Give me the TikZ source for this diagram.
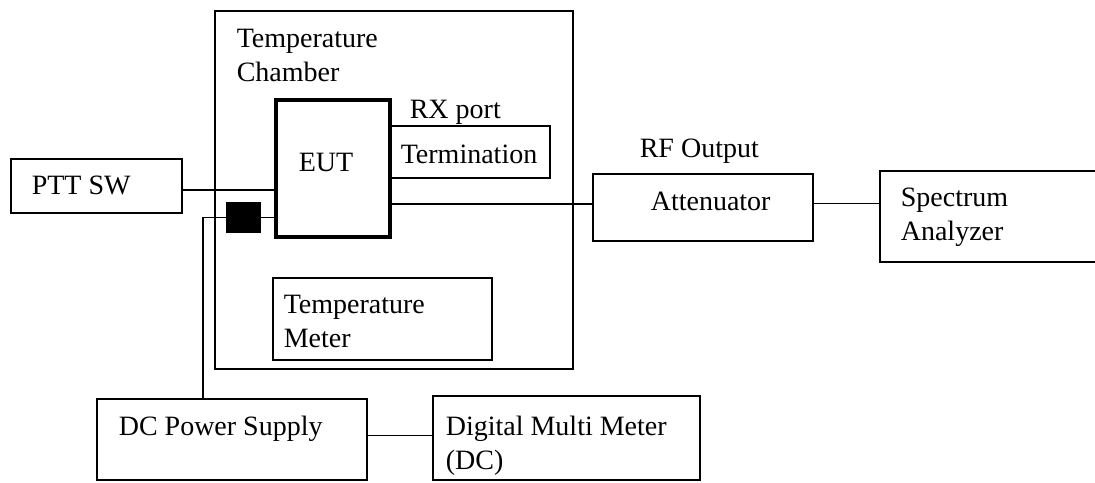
\documentclass[tikz,border=0pt]{standalone}
\usepackage{fontspec}
\setmainfont{Liberation Serif}
\usetikzlibrary{fit}

\begin{document}
\begin{tikzpicture}[x=0.5pt,y=-0.5pt,line width=0.8pt,
    box/.style={draw,inner sep=0pt},
    txt/.style={anchor=base west,inner sep=0pt,align=left,font=\fontsize{14}{17}\selectfont}]
\useasboundingbox (0,0) rectangle (1095,482);

% boxes
\node[box,fit={(215,11) (573,369)}] (chamber) {};
\node[box,line width=2pt,fit={(276,100) (390,237)}] (eut) {};
\node[box,fit={(390,126) (550,178)}] (term) {};
\node[box,fit={(273,278) (492,360)}] (meter) {};
\node[box,fill=black,fit={(227,203) (260,232)}] (blk) {};
\node[box,fit={(11,159) (182,213)}] (ptt) {};
\node[box,fit={(593,174) (813,241)}] (att) {};
\node[box,fit={(880,171) (1110,262)}] (sa) {};
\node[box,fit={(97,399) (367,480)}] (dc) {};
\node[box,fit={(433,396) (700,480)}] (dmm) {};

% texts (base = last line)
\node[txt] (chambertxt) at (236,81) {Temperature\\Chamber};
\node[txt] (rxport) at (409,118) {RX port};
\node[txt] (termtxt) at (400,163) {Termination};
\node[txt] (euttxt) at (298,171) {EUT};
\node[txt] (meternote) at (283,347) {Temperature\\Meter};
\node[txt] (ptttxt) at (31,194) {PTT SW};
\node[txt] (rfout) at (639,157) {RF Output};
\node[txt] (atttxt) at (650,210) {Attenuator};
\node[txt] (satxt) at (900,240) {Spectrum\\Analyzer};
\node[txt] (dctxt) at (118,435) {DC Power Supply};
\node[txt] (dmmtxt) at (445,469) {Digital Multi Meter\\(DC)};

% connections
\coordinate (pwr) at (203,217.5);
\draw ([yshift=-2pt]ptt.east) -- ([yshift=-2pt]ptt.east -| eut.west);
\draw (blk.east) -- (blk.east -| eut.west);
\draw (blk.west) -- (pwr) -- (pwr |- dc.north);
\draw ([yshift=1.75pt]att.west) -- ([yshift=1.75pt]att.west -| eut.east);
\draw ([yshift=2pt]att.east) -- ([yshift=2pt]att.east -| sa.west);
\draw ([yshift=2pt]dc.east) -- ([yshift=2pt]dc.east -| dmm.west);

\end{tikzpicture}
\end{document}
